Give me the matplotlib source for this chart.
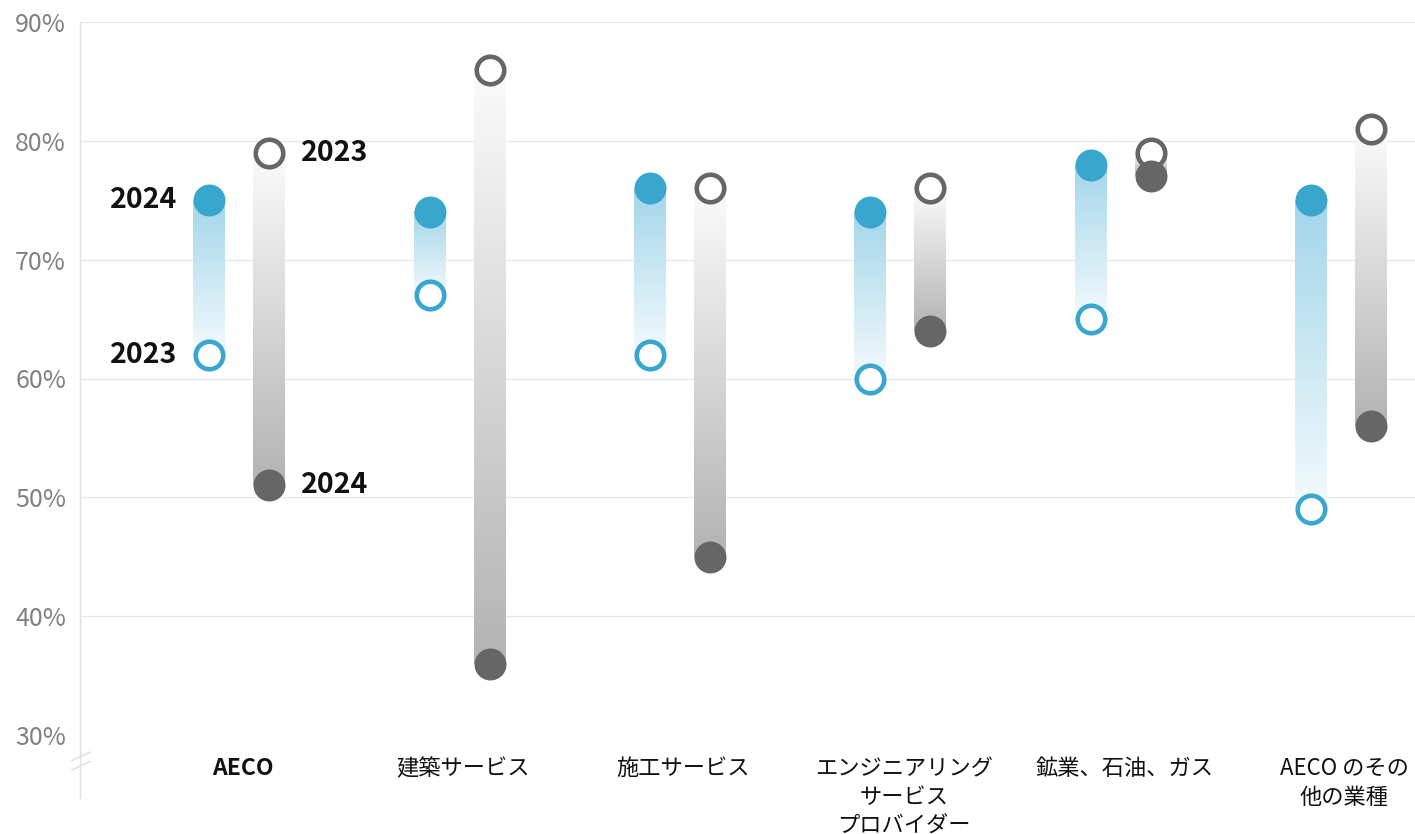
import numpy as np
import matplotlib
matplotlib.use('Agg')
import matplotlib.pyplot as plt
from matplotlib.colors import LinearSegmentedColormap

plt.rcParams['font.family'] = ['Noto Sans CJK JP', 'DejaVu Sans']

# data (percent)
categories = ['AECO', '建築サービス', '施工サービス', 'エンジニアリング\nサービス\nプロバイダー',
              '鉱業、石油、ガス', 'AECO のその\n他の業種']
blue_2024 = [75, 74, 76, 74, 78, 75]
blue_2023 = [62, 67, 62, 60, 65, 49]
gray_2023 = [79, 86, 76, 76, 79, 81]
gray_2024 = [51, 36, 45, 64, 77, 56]
yticks = [30, 40, 50, 60, 70, 80, 90]

BLUE = '#38a6cd'
DGRAY = '#666666'

blue_cmap = LinearSegmentedColormap.from_list('b', ['#f3fafd', '#a3d6ea'])
gray_cmap = LinearSegmentedColormap.from_list('g', ['#fbfbfb', '#b3b3b3'])

W, H = 1415, 834
fig = plt.figure(figsize=(W / 100, H / 100), dpi=100)
ax = fig.add_axes([80 / W, (H - 735) / H, 1 - 80 / W, (735 - 22) / H])

x = np.arange(len(categories))
off = 0.136
bw = 0.145

grad = np.linspace(0, 1, 256).reshape(-1, 1)

def gradient_bar(xc, v23, v24, cmap):
    # colour runs from the 2023 end (light) to the 2024 end (strong)
    lo, hi = min(v23, v24), max(v23, v24)
    g = grad if v24 > v23 else grad[::-1]
    ax.imshow(g, extent=[xc - bw / 2, xc + bw / 2, lo, hi], origin='lower',
              aspect='auto', cmap=cmap, interpolation='bilinear', zorder=2)

xb = x - off + 0.005
xg = x + off + 0.005
for i in range(len(categories)):
    gradient_bar(xb[i], blue_2023[i], blue_2024[i], blue_cmap)
    gradient_bar(xg[i], gray_2023[i], gray_2024[i], gray_cmap)

s_fill = 530
s_ring = 392
lw_ring = 3.3
ax.scatter(xb, blue_2023, s=s_ring, facecolor='white', edgecolor=BLUE, linewidth=lw_ring, zorder=3)
ax.scatter(xb, blue_2024, s=s_fill, color=BLUE, linewidth=0, zorder=4)
ax.scatter(xg, gray_2023, s=s_ring, facecolor='white', edgecolor=DGRAY, linewidth=lw_ring, zorder=3)
ax.scatter(xg, gray_2024, s=s_fill, color=DGRAY, linewidth=0, zorder=4)

# year labels on first group
lab = dict(fontsize=20.5, fontweight='bold', color='#111111', va='center', textcoords='offset points')
ax.annotate('2024', (xb[0], blue_2024[0]), xytext=(-23, 0), ha='right', **lab)
ax.annotate('2023', (xb[0], blue_2023[0]), xytext=(-23, 0), ha='right', **lab)
ax.annotate('2023', (xg[0], gray_2023[0]), xytext=(23, 0), ha='left', **lab)
ax.annotate('2024', (xg[0], gray_2024[0]), xytext=(23, 0), ha='left', **lab)

ax.set_xlim(-0.717, 5.34)
ax.set_ylim(30, 90)
ax.set_yticks(yticks)
ax.set_yticklabels([f'{t}%' for t in yticks], fontsize=18, color='#808080')
ax.set_xticks(x + 0.02)
ax.set_xticklabels(categories, fontsize=16, color='#111111', linespacing=1.3)
ax.get_xticklabels()[0].set_fontweight('bold')
ax.get_xticklabels()[0].set_fontsize(16.5)
ax.tick_params(axis='both', length=0)
ax.tick_params(axis='y', pad=10)
ax.tick_params(axis='x', pad=16)

for t in yticks:
    ax.axhline(t, color='#e6e6e6', lw=0.9, zorder=1)

for s in ax.spines.values():
    s.set_visible(False)

# y axis line running past the bottom, with break marks
ax.plot([0, 0], [1, -0.0884], transform=ax.transAxes, color='#e0e0e0', lw=1, clip_on=False, zorder=1)
for yb in (-0.030, -0.043):
    ax.plot([-8 / 1335, 10 / 1335], [yb - 0.006, yb + 0.006], transform=ax.transAxes,
            color='#dcdcdc', lw=1, clip_on=False)

plt.savefig('out.png', dpi=100)
